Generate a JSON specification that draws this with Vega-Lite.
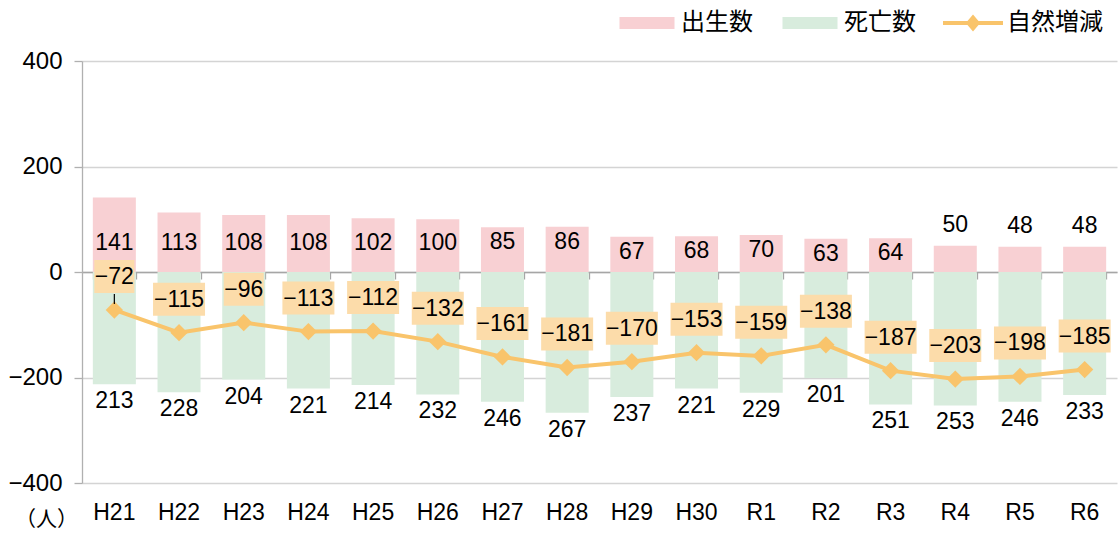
{
  "$schema": "https://vega.github.io/schema/vega-lite/v6.json",
  "width": 1035,
  "height": 422,
  "autosize": {"type": "none"},
  "padding": {"left": 82, "top": 61, "right": 1, "bottom": 51},
  "background": "white",
  "config": {
    "view": {"stroke": null},
    "axis": {"labelFont": "Liberation Sans", "labelColor": "#000000", "labelFontSize": 23},
    "text": {"font": "Liberation Sans", "fontSize": 23, "color": "#000000"}
  },
  "datasets": {
    "main": [
      {"year": "H21", "births": 141, "deaths": 213, "natural": -72},
      {"year": "H22", "births": 113, "deaths": 228, "natural": -115},
      {"year": "H23", "births": 108, "deaths": 204, "natural": -96},
      {"year": "H24", "births": 108, "deaths": 221, "natural": -113},
      {"year": "H25", "births": 102, "deaths": 214, "natural": -112},
      {"year": "H26", "births": 100, "deaths": 232, "natural": -132},
      {"year": "H27", "births": 85, "deaths": 246, "natural": -161},
      {"year": "H28", "births": 86, "deaths": 267, "natural": -181},
      {"year": "H29", "births": 67, "deaths": 237, "natural": -170},
      {"year": "H30", "births": 68, "deaths": 221, "natural": -153},
      {"year": "R1", "births": 70, "deaths": 229, "natural": -159},
      {"year": "R2", "births": 63, "deaths": 201, "natural": -138},
      {"year": "R3", "births": 64, "deaths": 251, "natural": -187},
      {"year": "R4", "births": 50, "deaths": 253, "natural": -203},
      {"year": "R5", "births": 48, "deaths": 246, "natural": -198},
      {"year": "R6", "births": 48, "deaths": 233, "natural": -185}
    ]
  },
  "data": {"name": "main"},
  "resolve": {"scale": {"y": "independent"}, "axis": {"x": "independent", "y": "independent"}},
  "layer": [
    {
      "mark": {"type": "bar", "color": "#F8D0D3"},
      "encoding": {
        "x": {"field": "year", "type": "nominal", "sort": null, "scale": {"paddingInner": 0.335, "paddingOuter": 0.1675},
          "axis": {"orient": "bottom", "title": null, "domain": false, "ticks": false, "grid": false, "labelPadding": 18, "labelAngle": 0}},
        "y": {"field": "births", "type": "quantitative", "scale": {"domain": [-400, 400], "nice": false},
          "axis": {"orient": "left", "values": [-400, -200, 0, 200, 400], "grid": true, "gridColor": "#d4d4d4", "gridWidth": 1.3,
            "domain": true, "domainColor": "#b0b0b0", "domainWidth": 1.3, "ticks": true, "tickSize": 8, "tickColor": "#b0b0b0", "tickWidth": 1.3,
            "labelPadding": 12, "labelFontSize": 24,
            "title": "（人）", "titleAngle": 0, "titleX": -36, "titleY": 458, "titleAlign": "center", "titleBaseline": "middle",
            "titleFont": "Noto Sans CJK JP", "titleFontSize": 21, "titleFontWeight": "normal", "titleColor": "#000000"}}
      }
    },
    {
      "mark": {"type": "bar", "color": "#D8ECDD"},
      "encoding": {
        "x": {"field": "year", "type": "nominal", "sort": null, "axis": null},
        "y": {"field": "deaths", "type": "quantitative", "scale": {"domain": [-400, 400], "nice": false, "reverse": true}, "axis": null}
      }
    },
    {
      "mark": {"type": "text", "baseline": "middle", "dy": 17},
      "encoding": {
        "x": {"field": "year", "type": "nominal", "sort": null, "axis": null},
        "y": {"field": "deaths", "type": "quantitative", "scale": {"domain": [-400, 400], "nice": false, "reverse": true}, "axis": null},
        "text": {"field": "deaths", "type": "quantitative"}
      }
    },
    {
      "transform": [{"filter": "datum.births > 90"}],
      "mark": {"type": "text", "baseline": "middle"},
      "encoding": {
        "x": {"field": "year", "type": "nominal", "sort": null, "axis": null},
        "y": {"datum": 55, "type": "quantitative", "scale": {"domain": [-400, 400], "nice": false}, "axis": null},
        "text": {"field": "births", "type": "quantitative"}
      }
    },
    {
      "transform": [{"filter": "datum.births <= 90 && datum.births >= 60"}],
      "mark": {"type": "text", "baseline": "middle", "dy": 15},
      "encoding": {
        "x": {"field": "year", "type": "nominal", "sort": null, "axis": null},
        "y": {"field": "births", "type": "quantitative", "scale": {"domain": [-400, 400], "nice": false}, "axis": null},
        "text": {"field": "births", "type": "quantitative"}
      }
    },
    {
      "transform": [{"filter": "datum.births < 60"}],
      "mark": {"type": "text", "baseline": "middle", "dy": -21},
      "encoding": {
        "x": {"field": "year", "type": "nominal", "sort": null, "axis": null},
        "y": {"field": "births", "type": "quantitative", "scale": {"domain": [-400, 400], "nice": false}, "axis": null},
        "text": {"field": "births", "type": "quantitative"}
      }
    },
    {
      "mark": {"type": "line", "color": "#F9C46B", "strokeWidth": 4},
      "encoding": {
        "x": {"field": "year", "type": "nominal", "sort": null, "axis": null},
        "y": {"field": "natural", "type": "quantitative", "scale": {"domain": [-400, 400], "nice": false}, "axis": null}
      }
    },
    {
      "mark": {"type": "point", "shape": "diamond", "filled": true, "opacity": 1, "color": "#F9C46B", "size": 300},
      "encoding": {
        "x": {"field": "year", "type": "nominal", "sort": null,
          "axis": {"orient": "bottom", "offset": -211, "labels": false, "title": null, "grid": false, "domain": true, "domainColor": "#a6a6a6", "domainWidth": 1.3,
            "ticks": true, "tickBand": "extent", "tickSize": 7, "tickColor": "#a6a6a6", "tickWidth": 1.3}},
        "y": {"field": "natural", "type": "quantitative", "scale": {"domain": [-400, 400], "nice": false}, "axis": null}
      }
    },
    {
      "transform": [{"filter": "datum.year == 'H21'"}],
      "mark": {"type": "rule", "color": "#000000", "strokeWidth": 1.2, "yOffset": -16, "y2Offset": -6},
      "encoding": {
        "x": {"field": "year", "type": "nominal", "sort": null, "axis": null},
        "y": {"field": "natural", "type": "quantitative", "scale": {"domain": [-400, 400], "nice": false}, "axis": null},
        "y2": {"field": "natural"}
      }
    },
    {
      "transform": [{"filter": "datum.natural > -100"}],
      "mark": {"type": "bar", "color": "#FCDCAA", "width": 40, "yOffset": -50, "y2Offset": -17},
      "encoding": {
        "x": {"field": "year", "type": "nominal", "sort": null, "axis": null},
        "y": {"field": "natural", "type": "quantitative", "scale": {"domain": [-400, 400], "nice": false}, "axis": null},
        "y2": {"field": "natural"}
      }
    },
    {
      "transform": [{"filter": "datum.natural <= -100"}],
      "mark": {"type": "bar", "color": "#FCDCAA", "width": 52, "yOffset": -50, "y2Offset": -17},
      "encoding": {
        "x": {"field": "year", "type": "nominal", "sort": null, "axis": null},
        "y": {"field": "natural", "type": "quantitative", "scale": {"domain": [-400, 400], "nice": false}, "axis": null},
        "y2": {"field": "natural"}
      }
    },
    {
      "mark": {"type": "text", "baseline": "middle", "dy": -33},
      "encoding": {
        "x": {"field": "year", "type": "nominal", "sort": null, "axis": null},
        "y": {"field": "natural", "type": "quantitative", "scale": {"domain": [-400, 400], "nice": false}, "axis": null},
        "text": {"field": "natural", "type": "quantitative"}
      }
    },
    {
      "data": {"values": []},
      "mark": {"type": "point", "filled": true, "opacity": 1},
      "encoding": {
        "color": {"field": "s", "type": "nominal",
          "scale": {"domain": ["出生数", "死亡数", "自然増減"], "range": ["#F8D0D3", "#D8ECDD", "#F9C46B"]},
          "legend": {"orient": "none", "legendX": 535, "legendY": -68, "direction": "horizontal", "title": null,
            "labelFont": "Noto Sans CJK JP", "labelFontSize": 24, "labelColor": "#000000", "symbolSize": 3600,
            "columnPadding": 27, "labelOffset": 4, "symbolStrokeWidth": 0, "padding": 0}},
        "shape": {"field": "s", "type": "nominal",
          "scale": {"domain": ["出生数", "死亡数", "自然増減"], "range": ["M-0.917,-0.2L0.917,-0.2L0.917,0.2L-0.917,0.2Z", "M-0.917,-0.2L0.917,-0.2L0.917,0.2L-0.917,0.2Z", "M-1,-0.067L1,-0.067L1,0.067L-1,0.067Z M0,-0.28L0.24,0L0,0.28L-0.24,0Z"]},
          "legend": {"orient": "none", "legendX": 535, "legendY": -68, "direction": "horizontal", "title": null,
            "labelFont": "Noto Sans CJK JP", "labelFontSize": 24, "labelColor": "#000000", "symbolSize": 3600,
            "columnPadding": 27, "labelOffset": 4, "symbolStrokeWidth": 0, "padding": 0}}
      }
    }
  ]
}
